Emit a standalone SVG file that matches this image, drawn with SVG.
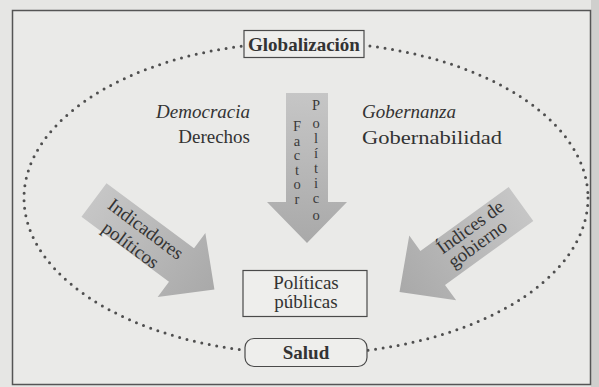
<svg xmlns="http://www.w3.org/2000/svg" width="599" height="387" viewBox="0 0 599 387">
<defs>
<style>
text{font-family:"Liberation Serif","DejaVu Serif","Times New Roman",serif}
.t{fill:#333;font-size:19px}
.b{font-weight:bold}
.i{font-style:italic}
.v{fill:#3a3a3a;font-size:14.5px;text-anchor:middle}
.box{fill:#eeeeec;stroke:#4a4a4a;stroke-width:1.2}
.dots{fill:none;stroke:#4f4f4f;stroke-width:3;stroke-dasharray:0 7.6;stroke-linecap:round}
</style>
<linearGradient id="ag" x1="0" y1="0" x2="1" y2="0">
<stop offset="0" stop-color="#c6c6c6"/>
<stop offset="1" stop-color="#a9a9a9"/>
</linearGradient>
<path id="arrow" d="M0,-21 L109,-21 L109,-40 L150,0 L109,40 L109,21 L0,21 Z" fill="url(#ag)"/>
</defs>
<rect x="0" y="0" width="599" height="387" fill="#e6e6e4"/>
<rect x="591" y="0" width="8" height="387" fill="#cfcfcd"/>
<rect x="12.5" y="10.5" width="578" height="374" fill="#eaeae8" stroke="#555" stroke-width="1.5"/>

<g id="connectors">
<ellipse class="dots" cx="306" cy="198" rx="282" ry="156"/>
</g>

<g id="globalizacion">
<rect class="box" x="244" y="30.5" width="120" height="27"/>
<text class="t b" x="304" y="51" text-anchor="middle">Globalización</text>
</g>

<g id="salud">
<rect class="box" x="245" y="338.5" width="122" height="28" rx="9"/>
<text class="t b" x="306" y="359" text-anchor="middle">Salud</text>
</g>

<g id="politicas">
<rect class="box" x="243" y="270.5" width="124" height="46"/>
<text class="t" x="306" y="289" text-anchor="middle">Políticas</text>
<text class="t" x="306" y="308" text-anchor="middle">públicas</text>
</g>

<g id="democracia">
<text class="t i" x="250" y="118" text-anchor="end">Democracia</text>
<text class="t" x="250" y="143" text-anchor="end">Derechos</text>
</g>

<g id="gobernanza">
<text class="t i" x="362" y="118">Gobernanza</text>
<text class="t" x="362" y="144" textLength="140" lengthAdjust="spacingAndGlyphs">Gobernabilidad</text>
</g>

<g id="factor-politico">
<use href="#arrow" transform="translate(307,93) rotate(90)"/>
<text class="v" x="297" y="131">F</text>
<text class="v" x="297" y="145.5">a</text>
<text class="v" x="297" y="160">c</text>
<text class="v" x="297" y="174.5">t</text>
<text class="v" x="297" y="189">o</text>
<text class="v" x="297" y="203.5">r</text>
<text class="v" x="316" y="110">P</text>
<text class="v" x="316" y="128">o</text>
<text class="v" x="316" y="143">l</text>
<text class="v" x="316" y="158">í</text>
<text class="v" x="316" y="173">t</text>
<text class="v" x="316" y="188">i</text>
<text class="v" x="316" y="203">c</text>
<text class="v" x="316" y="220">o</text>
</g>

<g id="indicadores-politicos">
<use href="#arrow" transform="translate(94,200) rotate(36.6)"/>
<text class="t" x="142" y="234" text-anchor="middle" transform="rotate(36.6 142 234)">Indicadores</text>
<text class="t" x="127" y="250" text-anchor="middle" transform="rotate(36.6 127 250)">políticos</text>
</g>

<g id="indices-gobierno">
<use href="#arrow" transform="translate(521,204) rotate(144.1)"/>
<text class="t" x="474" y="232" text-anchor="middle" transform="rotate(-35.9 474 232)">Índices de</text>
<text class="t" x="481" y="249" text-anchor="middle" transform="rotate(-35.9 481 249)">gobierno</text>
</g>
</svg>
